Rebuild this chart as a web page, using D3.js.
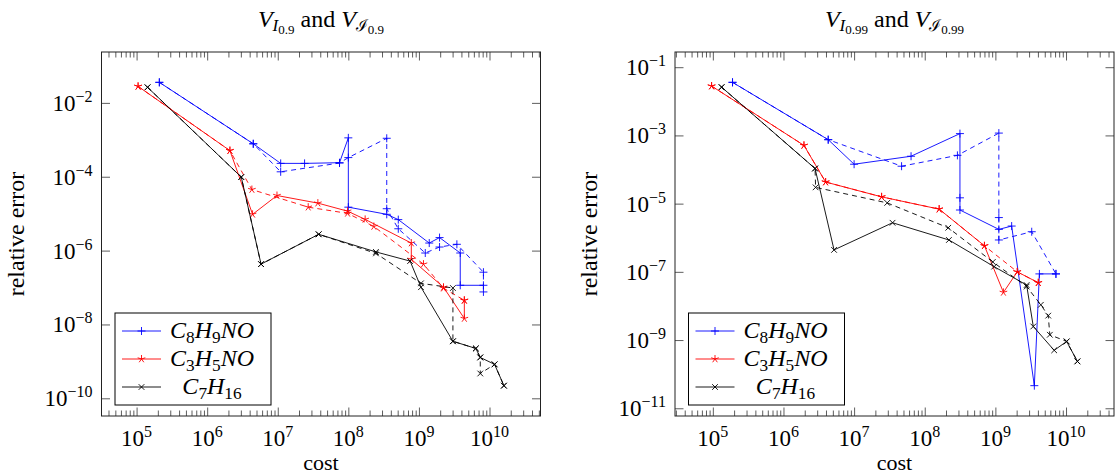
<!DOCTYPE html>
<html>
<head>
<meta charset="utf-8">
<script src="https://cdn.jsdelivr.net/npm/d3@7"></script>
<style>
  body { margin: 0; background: #fff; }
  svg text { font-family: "Liberation Serif", "DejaVu Serif", serif; fill: #000; }
</style>
</head>
<body>
<div id="chart"></div>
<script>
// values: [cost, relative error]
// left panel (0.9) - solid = V_I, dashed = V_ℐ
const c8h9no_I09 = [[2.1e5,3.6e-2],[4.5e6,7.8e-4],[1.1e7,2.3e-4],[2.4e7,2.3e-4],[7.5e7,2.4e-4],[1.0e8,1.13e-3],[1.0e8,1.5e-5],[3.5e8,9.6e-6],[5.1e8,6.9e-6],[1.4e9,1.6e-6],[1.96e9,2.25e-6],[3.85e9,8.6e-7],[3.85e9,1.15e-7],[8.2e9,1.15e-7]]
const c8h9no_II09 = [[2.1e5,3.6e-2],[4.5e6,7.8e-4],[1.1e7,1.36e-4],[7.5e7,2.35e-4],[1.0e8,3.3e-4],[3.5e8,1.1e-3],[3.5e8,1.36e-5],[5.1e8,3.9e-6],[1.23e9,8.6e-7],[1.96e9,1.25e-6],[3.45e9,1.48e-6],[8.2e9,2.6e-7],[8.2e9,7.6e-8]]
const c3h5no_I09 = [[1.05e5,2.8e-2],[2.1e6,5.1e-4],[4.4e6,9.6e-6],[9.75e6,3.1e-5],[3.7e7,1.93e-5],[9.75e7,1.17e-5],[1.73e8,7.0e-6],[7.8e8,1.6e-6],[7.8e8,5.8e-7],[2.23e9,1.02e-7],[4.4e9,1.45e-8],[4.4e9,4.5e-8]]
const c3h5no_II09 = [[1.05e5,2.8e-2],[2.1e6,5.1e-4],[4.3e6,4.5e-5],[2.7e7,1.5e-5],[9.75e7,1.02e-5],[2.3e8,4.5e-6],[1.16e9,4.3e-7],[2.23e9,9.6e-8],[4.4e9,4.5e-8]]
const c7h16_I09 = [[1.43e5,2.64e-2],[3.04e6,9.8e-5],[5.8e6,4.3e-7],[3.8e7,2.76e-6],[2.46e8,9.2e-7],[7.5e8,5.2e-7],[1.07e9,1.02e-7],[3.03e9,3.5e-9],[6.4e9,2.24e-9],[7.4e9,1.28e-9],[1.18e10,8.3e-10],[1.6e10,2.2e-10]]
const c7h16_II09 = [[1.43e5,2.64e-2],[3.04e6,9.8e-5],[5.8e6,4.3e-7],[3.8e7,2.76e-6],[2.46e8,8.4e-7],[1.07e9,1.3e-7],[3.03e9,9.7e-8],[3.03e9,3.5e-9],[6.4e9,2.24e-9],[7.4e9,1.28e-9],[7.4e9,4.7e-10],[1.18e10,8.3e-10],[1.6e10,2.2e-10]]

// right panel (0.99)
const c8h9no_I099 = [[1.9e5,3.6e-2],[4.3e6,7.5e-4],[1.0e7,1.43e-4],[6.4e7,2.45e-4],[3.15e8,1.13e-3],[3.15e8,1.48e-5],[3.15e8,6.5e-6],[1.12e9,1.76e-6],[1.7e9,2.2e-6],[3.56e9,4.6e-11],[4.2e9,8.7e-8],[7.2e9,8.7e-8]]
const c8h9no_II099 = [[1.9e5,3.6e-2],[4.3e6,7.5e-4],[4.7e7,1.25e-4],[2.9e8,2.6e-4],[1.12e9,1.17e-3],[1.12e9,3.9e-6],[1.12e9,8.6e-7],[3.27e9,1.5e-6],[7.2e9,8.7e-8]]
const c3h5no_I099 = [[9.6e4,2.8e-2],[1.95e6,5.1e-4],[3.95e6,4.3e-5],[2.45e7,1.58e-5],[1.6e8,6.9e-6],[7.0e8,5.8e-7],[1.3e9,2.5e-8],[2.04e9,1.0e-7],[4.05e9,4.8e-8]]
const c3h5no_II099 = [[9.6e4,2.8e-2],[1.95e6,5.1e-4],[3.95e6,4.3e-5],[2.45e7,1.58e-5],[1.6e8,6.9e-6],[7.0e8,5.8e-7],[2.04e9,1.0e-7],[4.05e9,4.8e-8]]
const c7h16_I099 = [[1.33e5,2.6e-2],[2.8e6,1.07e-4],[5.2e6,4.4e-7],[3.5e7,2.75e-6],[2.2e8,8.6e-7],[9.6e8,1.42e-7],[2.77e9,4.1e-8],[3.44e9,2.5e-9],[6.8e9,5.0e-10],[1.02e10,9.1e-10],[1.45e10,2.37e-10]]
const c7h16_II099 = [[1.33e5,2.6e-2],[2.8e6,1.07e-4],[2.85e6,3.0e-5],[2.94e7,1.05e-5],[2.15e8,1.96e-6],[9.2e8,1.95e-7],[2.77e9,3.7e-8],[4.4e9,1.08e-8],[5.6e9,5.2e-9],[5.9e9,1.43e-9],[1.02e10,9.1e-10],[1.45e10,2.37e-10]]

// ticks (exponents of ten)
const xTickExps = [5, 6, 7, 8, 9, 10]
const yTickExpsLeft = [-10, -8, -6, -4, -2]
const yTickExpsRight = [-11, -9, -7, -5, -3, -1]

// legend / molecules
const molecules = [
  {name: [["C",0],["8",1],["H",0],["9",1],["NO",0]], color: "#0000ff", mark: "plus"},
  {name: [["C",0],["3",1],["H",0],["5",1],["NO",0]], color: "#ff0000", mark: "star"},
  {name: [["C",0],["7",1],["H",0],["16",1]], color: "#000000", mark: "cross"}
]

const width = 1116
const height = 475
const plotTop = 52
const plotH = 364
const plotW = 439

const panels = [
  {left: 101.5, level: "0.9", yTicks: yTickExpsLeft,
   solid: [c8h9no_I09, c3h5no_I09, c7h16_I09], dashed: [c8h9no_II09, c3h5no_II09, c7h16_II09]},
  {left: 675, level: "0.99", yTicks: yTickExpsRight,
   solid: [c8h9no_I099, c3h5no_I099, c7h16_I099], dashed: [c8h9no_II099, c3h5no_II099, c7h16_II099]}
]

const svg = d3.select('#chart').append('svg').attr('width', width).attr('height', height)

//pgfplots style marks
function markPath(type) {
  const s = 4
  if (type === 'plus') return `M${-s},0H${s}M0,${-s}V${s}`
  if (type === 'cross') { const a = s * 0.7071; return `M${-a},${-a}L${a},${a}M${-a},${a}L${a},${-a}` }
  let p = ''
  for (let i = 0; i < 5; i++) {
    const ang = -Math.PI / 2 + i * 2 * Math.PI / 5
    p += `M0,0L${(s * Math.cos(ang)).toFixed(2)},${(s * Math.sin(ang)).toFixed(2)}`
  }
  return p
}

//log extent enlarged by 10% on each side, like enlargelimits
function logDomain(values) {
  const ext = d3.extent(values).map(Math.log10)
  const pad = (ext[1] - ext[0]) * 0.1
  return [Math.pow(10, ext[0] - pad), Math.pow(10, ext[1] + pad)]
}

//math-ish text: pieces of [text, level] where level 1 = subscript
function mathText(sel, pieces, size) {
  let cur = 0
  pieces.forEach(([t, lvl]) => {
    const dy = (lvl - cur) * 5
    cur = lvl
    sel.append('tspan')
       .attr('dy', dy)
       .attr('font-size', lvl ? size * 0.72 : size)
       .attr('font-style', lvl ? 'normal' : 'italic')
       .text(t)
  })
}

panels.forEach(p => {
  const all = p.solid.concat(p.dashed).flat()
  const x = d3.scaleLog().domain(logDomain(all.map(d => d[0]))).range([p.left, p.left + plotW])
  const y = d3.scaleLog().domain(logDomain(all.map(d => d[1]))).range([plotTop + plotH, plotTop])
  const g = svg.append('g')

  //minor ticks for x: 2..9 of each decade in the domain
  const [x0, x1] = x.domain()
  const minor = []
  for (let e = Math.floor(Math.log10(x0)); e <= Math.ceil(Math.log10(x1)); e++) {
    for (let k = 2; k <= 9; k++) {
      const v = k * Math.pow(10, e)
      if (v > x0 && v < x1) minor.push(v)
    }
  }
  const majorX = xTickExps.map(e => Math.pow(10, e))
  const majorY = p.yTicks.map(e => Math.pow(10, e))

  //ticks point inwards, on all four sides
  const addAxis = (axis, tr) => {
    const a = g.append('g').attr('transform', tr).call(axis)
    a.select('.domain').remove()
    a.selectAll('line').attr('stroke', '#333').attr('stroke-width', 0.8)
  }
  addAxis(d3.axisBottom(x).tickValues(minor).tickSize(-5.5).tickFormat(''), `translate(0,${plotTop + plotH})`)
  addAxis(d3.axisBottom(x).tickValues(majorX).tickSize(-8.5).tickFormat(''), `translate(0,${plotTop + plotH})`)
  addAxis(d3.axisTop(x).tickValues(minor).tickSize(-5.5).tickFormat(''), `translate(0,${plotTop})`)
  addAxis(d3.axisTop(x).tickValues(majorX).tickSize(-8.5).tickFormat(''), `translate(0,${plotTop})`)
  addAxis(d3.axisLeft(y).tickValues(majorY).tickSize(-8.5).tickFormat(''), `translate(${p.left},0)`)
  addAxis(d3.axisRight(y).tickValues(majorY).tickSize(-8.5).tickFormat(''), `translate(${p.left + plotW},0)`)

  //frame
  g.append('rect').attr('x', p.left).attr('y', plotTop).attr('width', plotW).attr('height', plotH)
   .attr('fill', 'none').attr('stroke', '#222').attr('stroke-width', 1)

  //tick labels 10^n
  xTickExps.forEach(e => {
    const t = g.append('text').attr('x', x(Math.pow(10, e))).attr('y', plotTop + plotH + 30)
               .attr('text-anchor', 'middle').attr('font-size', 23)
    t.append('tspan').text('10')
    t.append('tspan').attr('dy', -9).attr('font-size', 16).text(String(e).replace('-', '\u2212'))
  })
  p.yTicks.forEach(e => {
    const t = g.append('text').attr('x', p.left - 9).attr('y', y(Math.pow(10, e)) + 8)
               .attr('text-anchor', 'end').attr('font-size', 23)
    t.append('tspan').text('10')
    t.append('tspan').attr('dy', -9).attr('font-size', 16).text(String(e).replace('-', '\u2212'))
  })

  //axis labels
  g.append('text').attr('x', p.left + plotW / 2).attr('y', 470).attr('text-anchor', 'middle')
   .attr('font-size', 22).text('cost')
  g.append('text').attr('transform', `translate(${p.left - 78},${plotTop + plotH / 2}) rotate(-90)`)
   .attr('text-anchor', 'middle').attr('font-size', 24).text('relative error')

  //title  V_{I_l} and V_{ℐ_l}
  const tt = g.append('text').attr('x', p.left + plotW / 2).attr('y', 27)
              .attr('text-anchor', 'middle').attr('font-size', 24)
  tt.append('tspan').attr('font-style', 'italic').text('V')
  tt.append('tspan').attr('font-style', 'italic').attr('font-size', 17).attr('dy', 4).text('I')
  tt.append('tspan').attr('font-size', 13).attr('dy', 3).text(p.level)
  tt.append('tspan').attr('dy', -7).text('\u00a0and\u00a0')
  tt.append('tspan').attr('font-style', 'italic').text('V')
  tt.append('tspan').attr('font-size', 16).attr('dy', 4).attr('font-family', 'DejaVu Serif').text('\u2110')
  tt.append('tspan').attr('font-size', 13).attr('dy', 3).text(p.level)

  //the lines: solid first, then dashed
  const line = d3.line().x(d => x(d[0])).y(d => y(d[1]))
  const drawSeries = (data, m, dashed) => {
    g.append('path').datum(data).attr('d', line).attr('fill', 'none')
     .attr('stroke', m.color).attr('stroke-width', 0.9)
     .attr('stroke-dasharray', dashed ? '5,4' : null)
    g.append('g').selectAll('path').data(data).enter().append('path')
     .attr('transform', d => `translate(${x(d[0])},${y(d[1])})`)
     .attr('d', markPath(m.mark)).attr('stroke', m.color).attr('stroke-width', 0.9).attr('fill', 'none')
  }
  p.solid.forEach((s, i) => drawSeries(s, molecules[i], false))
  p.dashed.forEach((s, i) => drawSeries(s, molecules[i], true))

  //legend, south west
  const lx = p.left + 13.5
  const ly = plotTop + plotH - 11 - 92
  const lg = g.append('g')
  lg.append('rect').attr('x', lx).attr('y', ly).attr('width', 156).attr('height', 92)
    .attr('fill', '#fff').attr('stroke', '#000').attr('stroke-width', 1)
  molecules.forEach((m, i) => {
    const ry = ly + 18 + i * 28
    lg.append('line').attr('x1', lx + 7).attr('x2', lx + 46).attr('y1', ry).attr('y2', ry)
      .attr('stroke', m.color).attr('stroke-width', 0.9)
    lg.append('path').attr('transform', `translate(${lx + 26.5},${ry})`).attr('d', markPath(m.mark))
      .attr('stroke', m.color).attr('stroke-width', 0.9).attr('fill', 'none')
    const t = lg.append('text').attr('x', lx + 97).attr('y', ry + 7).attr('text-anchor', 'middle')
    mathText(t, m.name, 24)
  })
})
</script>
</body>
</html>
